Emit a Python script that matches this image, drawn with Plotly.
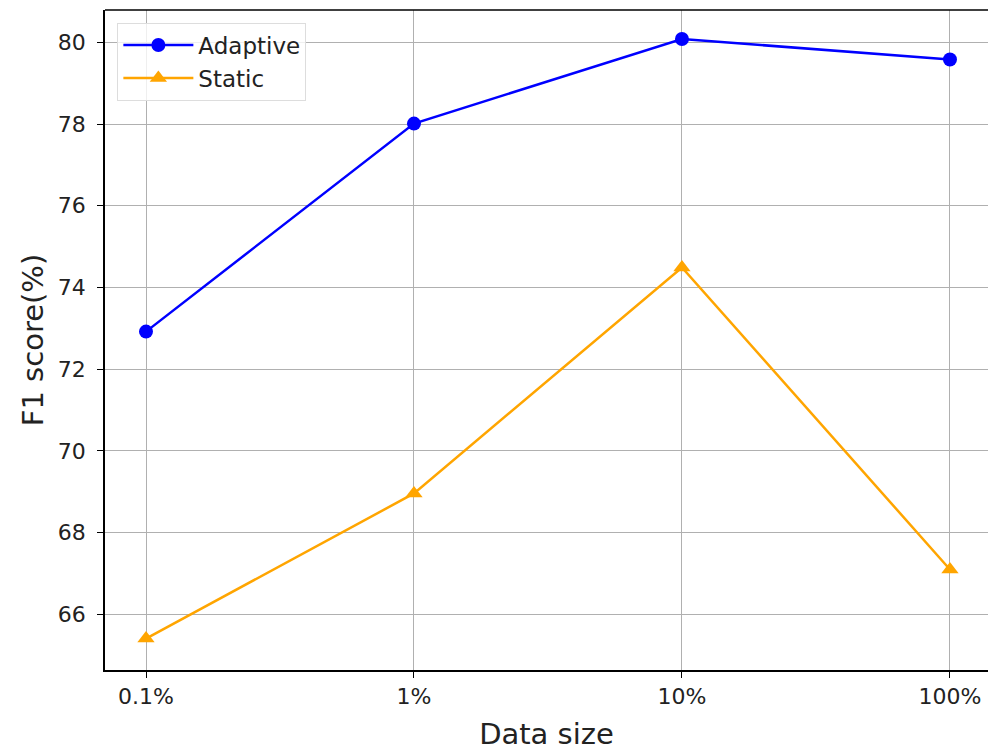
import plotly.graph_objects as go

categories = ["0.1%", "1%", "10%", "100%"]
adaptive = [72.92, 78.01, 80.08, 79.58]
static = [65.41, 68.96, 74.49, 67.10]
y_ticks = [66, 68, 70, 72, 74, 76, 78, 80]

xpos = list(range(len(categories)))

fig = go.Figure()
fig.add_trace(go.Scatter(
    x=xpos, y=adaptive, mode="lines+markers", name="Adaptive",
    line=dict(color="#0000ff", width=2.5),
    marker=dict(symbol="circle", size=14, color="#0000ff"),
))
fig.add_trace(go.Scatter(
    x=xpos, y=static, mode="lines+markers", name="Static",
    line=dict(color="#ffa500", width=2.5),
    marker=dict(symbol="triangle-up", size=15, color="#ffa500"),
))

fig.add_shape(type="line", xref="paper", yref="paper", x0=0, x1=1.01, y0=1, y1=1,
              line=dict(color="black", width=1.5))

fig.update_layout(
    width=988, height=751,
    margin=dict(l=105, r=0, t=10, b=81),
    paper_bgcolor="white", plot_bgcolor="white",
    font=dict(family="DejaVu Sans", size=22, color="#222222"),
    showlegend=True,
    legend=dict(
        x=0.014, y=0.981, xanchor="left", yanchor="top",
        bgcolor="rgba(255,255,255,0.8)", bordercolor="#dddddd", borderwidth=1,
        font=dict(size=23, color="#222222"),
        itemwidth=70,
    ),
    xaxis=dict(
        range=[-0.153, 3.142],
        tickmode="array", tickvals=xpos, ticktext=categories,
        showgrid=True, gridcolor="#b0b0b0", gridwidth=1,
        showline=True, linecolor="black", linewidth=1.5, mirror=False,
        ticks="outside", ticklen=6, tickcolor="black",
        zeroline=False,
        title=dict(text="Data size", font=dict(size=29), standoff=16),
    ),
    yaxis=dict(
        range=[64.64, 80.79],
        tickmode="array", tickvals=y_ticks,
        showgrid=True, gridcolor="#b0b0b0", gridwidth=1,
        showline=True, linecolor="black", linewidth=1.5, mirror=False,
        ticks="outside", ticklen=6, tickcolor="black",
        ticklabelstandoff=7,
        zeroline=False,
        title=dict(text="F1 score(%)", font=dict(size=29), standoff=6),
    ),
)

fig.write_html(
    "out.html",
    config={"displayModeBar": False},
    post_script=(
        "document.body.style.margin='0px';"
        "document.body.style.overflow='hidden';"
        "document.documentElement.style.overflow='hidden';"
    ),
)
